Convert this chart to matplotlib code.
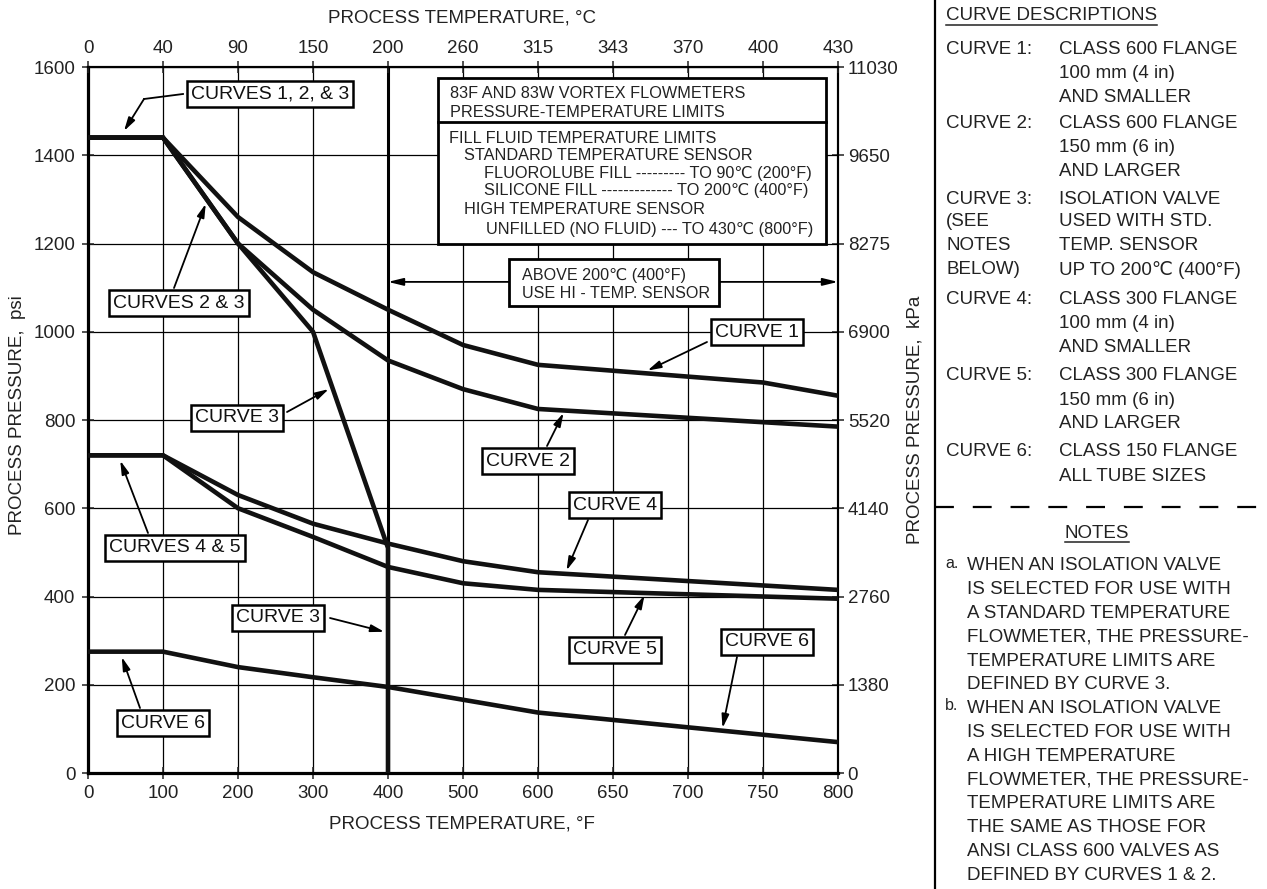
import numpy as np
import matplotlib
matplotlib.use('Agg')
import matplotlib.pyplot as plt
from matplotlib.patches import Rectangle
from matplotlib.lines import Line2D

FONT = ['Liberation Sans', 'DejaVu Sans']
plt.rcParams['font.family'] = FONT

# ---------------- data ----------------
f_ticks = [0, 100, 200, 300, 400, 500, 600, 650, 700, 750, 800]
c_labels = ['0', '40', '90', '150', '200', '260', '315', '343', '370', '400', '430']
psi_ticks = [0, 200, 400, 600, 800, 1000, 1200, 1400, 1600]
kpa_labels = ['0', '1380', '2760', '4140', '5520', '6900', '8275', '9650', '11030']

curve1_f = [0, 100, 200, 300, 400, 500, 600, 750, 800]
curve1_psi = [1440, 1440, 1260, 1135, 1050, 970, 925, 885, 855]
curve2_f = [0, 100, 200, 300, 400, 500, 600, 800]
curve2_psi = [1440, 1440, 1200, 1050, 935, 870, 825, 785]
curve3_f = [0, 100, 200, 300, 400, 400]
curve3_psi = [1440, 1440, 1200, 1000, 510, 0]
curve4_f = [0, 100, 200, 300, 400, 500, 600, 800]
curve4_psi = [720, 720, 630, 565, 520, 480, 455, 415]
curve5_f = [0, 100, 200, 300, 400, 500, 600, 800]
curve5_psi = [720, 720, 600, 535, 467, 430, 415, 395]
curve6_f = [0, 100, 200, 300, 400, 500, 600, 800]
curve6_psi = [275, 275, 240, 217, 195, 166, 137, 70]

W, H = 1267, 889
fig = plt.figure(figsize=(W / 100, H / 100), dpi=100)
AX_L, AX_R, AX_T, AX_B = 88, 838, 67, 773
ax = fig.add_axes([AX_L / W, 1 - AX_B / H, (AX_R - AX_L) / W, (AX_B - AX_T) / H])

pos = np.arange(len(f_ticks), dtype=float)
def fwd(x):
    return np.interp(x, f_ticks, pos)
def inv(p):
    return np.interp(p, pos, f_ticks)

TK = dict(direction='inout', length=8, width=1.1, labelsize=13.5, colors='#222222')

ax.set_xscale('function', functions=(fwd, inv))
ax.set_xlim(0, 800)
ax.set_ylim(0, 1600)
ax.set_xticks(f_ticks, labels=[str(v) for v in f_ticks])
ax.set_yticks(psi_ticks, labels=[str(v) for v in psi_ticks])
ax.grid(True, color='black', lw=0.9)
ax.set_axisbelow(True)
ax.tick_params(axis='x', pad=5, **TK)
ax.tick_params(axis='y', pad=5, **TK)
for s in ['left', 'bottom']:
    ax.spines[s].set_linewidth(2.3)
for s in ['top', 'right']:
    ax.spines[s].set_linewidth(1.5)

# bold 400 F line
ax.axvline(400, color='black', lw=2.2, zorder=2)

lw = 3.3
for fx, py in [(curve1_f, curve1_psi), (curve2_f, curve2_psi), (curve3_f, curve3_psi),
               (curve4_f, curve4_psi), (curve5_f, curve5_psi), (curve6_f, curve6_psi)]:
    ax.plot(fx, py, color='#111111', lw=lw, solid_joinstyle='miter', zorder=4)

top = ax.twiny()
top.set_xscale('function', functions=(fwd, inv))
top.set_xlim(0, 800)
top.set_xticks(f_ticks, labels=c_labels)
top.tick_params(axis='x', pad=3, **TK)
for s in ['left', 'right', 'bottom']:
    top.spines[s].set_visible(False)
top.spines['top'].set_linewidth(1.5)

right = ax.secondary_yaxis('right')
right.set_yticks(psi_ticks, labels=kpa_labels)
right.tick_params(pad=3, **TK)
right.spines['right'].set_linewidth(1.5)

def af(px, py):
    return ((px - AX_L) / (AX_R - AX_L), (AX_B - py) / (AX_B - AX_T))

def fx_(px):
    return px / W

def fy_(py):
    return 1 - py / H

# axis titles
fig.text(fx_(462), fy_(18), 'PROCESS TEMPERATURE, \u00b0C', ha='center', va='center', fontsize=13.5, color='#222222')
fig.text(fx_(462), fy_(824), 'PROCESS TEMPERATURE, \u00b0F', ha='center', va='center', fontsize=13.5, color='#222222')
fig.text(fx_(18), fy_(415), 'PROCESS PRESSURE,  psi', ha='center', va='center', rotation=90, fontsize=13.5, color='#222222')
fig.text(fx_(915), fy_(420), 'PROCESS PRESSURE,  kPa', ha='center', va='center', rotation=90, fontsize=13.5, color='#222222')

# ---------------- curve labels ----------------
arrowprops = dict(arrowstyle='-|>,head_length=0.8,head_width=0.22', lw=1.3, color='black',
                  shrinkA=0, shrinkB=0)
box = dict(boxstyle='square,pad=0.22', fc='white', ec='black', lw=1.8)

labels = [
    # text, box centre px, arrow start px, arrow tip (F, psi)
    ('CURVES 1, 2, & 3', (270, 94), (144, 99), (48, 1455)),
    ('CURVES 2 & 3', (179, 303), (174, 288), (157, 1290)),
    ('CURVE 3', (237, 418), (287, 412), (321, 870)),
    ('CURVE 1', (757, 332), (707, 342), (673, 912)),
    ('CURVE 2', (528, 461), (547, 446), (617, 816)),
    ('CURVE 4', (615, 505), (588, 520), (619, 459)),
    ('CURVES 4 & 5', (175, 548), (148, 533), (43, 708)),
    ('CURVE 3', (278, 618), (330, 618), (395, 320)),
    ('CURVE 5', (615, 650), (625, 635), (671, 403)),
    ('CURVE 6', (767, 642), (737, 657), (723, 102)),
    ('CURVE 6', (163, 723), (140, 708), (45, 263)),
]
for text, cpx, spx, tip in labels:
    ax.text(*af(*cpx), text, transform=ax.transAxes, ha='center', va='center',
            fontsize=14, color='#111111', bbox=box, zorder=6)
    ax.annotate('', xy=tip, xycoords='data', xytext=af(*spx), textcoords='axes fraction',
                arrowprops=arrowprops, zorder=5)
# elbow for the first label
x0, y0 = af(183, 94)
x1, y1 = af(144, 99)
ax.plot([x0, x1], [y0, y1], transform=ax.transAxes, color='black', lw=1.3, zorder=5)

# ---------------- info box ----------------
bx0, by0 = af(438, 244)
bx1, by1 = af(826, 78)
ax.add_patch(Rectangle((bx0, by0), bx1 - bx0, by1 - by0, transform=ax.transAxes,
                       fc='white', ec='black', lw=2.0, zorder=6))
dy = af(0, 122)[1]
ax.plot([bx0, bx1], [dy, dy], transform=ax.transAxes, color='black', lw=2.0, zorder=7)
info = [
    (450, 93, '83F AND 83W VORTEX FLOWMETERS'),
    (450, 112, 'PRESSURE-TEMPERATURE LIMITS'),
    (449, 138, 'FILL FLUID TEMPERATURE LIMITS'),
    (464, 155, 'STANDARD TEMPERATURE SENSOR'),
    (484, 173, 'FLUOROLUBE FILL --------- TO 90\u2103 (200\u00b0F)'),
    (484, 190, 'SILICONE FILL ------------- TO 200\u2103 (400\u00b0F)'),
    (464, 209, 'HIGH TEMPERATURE SENSOR'),
    (486, 229, 'UNFILLED (NO FLUID) --- TO 430\u2103 (800\u00b0F)'),
]
for px, py, s in info:
    ax.text(*af(px, py), s, transform=ax.transAxes, ha='left', va='center',
            fontsize=11.7, color='#222222', zorder=8)

# ---------------- above 200C arrow ----------------
ax.annotate('', xy=(800, 1113), xytext=(400, 1113), xycoords='data',
            arrowprops=dict(arrowstyle='<|-|>,head_length=0.9,head_width=0.22', lw=1.3,
                            color='black', shrinkA=0, shrinkB=0), zorder=5)
ax0, ay0 = af(509, 306)
ax1_, ay1 = af(719, 259)
ax.add_patch(Rectangle((ax0, ay0), ax1_ - ax0, ay1 - ay0, transform=ax.transAxes,
                       fc='white', ec='black', lw=2.0, zorder=6))
ax.text(*af(522, 275), 'ABOVE 200\u2103 (400\u00b0F)', transform=ax.transAxes, ha='left',
        va='center', fontsize=11.6, color='#222222', zorder=8)
ax.text(*af(522, 293), 'USE HI - TEMP. SENSOR', transform=ax.transAxes, ha='left',
        va='center', fontsize=11.6, color='#222222', zorder=8)

# ---------------- right panel ----------------
fig.add_artist(Line2D([fx_(935), fx_(935)], [0, 1], color='black', lw=1.6))
PFS = 13.5
col1, col2 = 946, 1059

def ptext(px, py, s, **kw):
    kw.setdefault('fontsize', PFS)
    return fig.text(fx_(px), fy_(py), s, va='center', color='#222222', **kw)

t_cd = ptext(col1, 16, 'CURVE DESCRIPTIONS')
desc = [
    (49, 'CURVE 1:', 'CLASS 600 FLANGE'),
    (73, '', '100 mm (4 in)'),
    (97, '', 'AND SMALLER'),
    (124, 'CURVE 2:', 'CLASS 600 FLANGE'),
    (148, '', '150 mm (6 in)'),
    (172, '', 'AND LARGER'),
    (199, 'CURVE 3:', 'ISOLATION VALVE'),
    (222, '(SEE', 'USED WITH STD.'),
    (246, 'NOTES', 'TEMP. SENSOR'),
    (270, 'BELOW)', 'UP TO 200\u2103 (400\u00b0F)'),
    (300, 'CURVE 4:', 'CLASS 300 FLANGE'),
    (324, '', '100 mm (4 in)'),
    (348, '', 'AND SMALLER'),
    (376, 'CURVE 5:', 'CLASS 300 FLANGE'),
    (400, '', '150 mm (6 in)'),
    (424, '', 'AND LARGER'),
    (452, 'CURVE 6:', 'CLASS 150 FLANGE'),
    (476, '', 'ALL TUBE SIZES'),
]
for py, a, b in desc:
    if a:
        ptext(col1, py, a)
    ptext(col2, py, b)

fig.add_artist(Line2D([fx_(935), 1], [fy_(507), fy_(507)], color='black', lw=1.6,
                      dashes=(8.5, 8.5)))
t_notes = ptext(1097, 533, 'NOTES', ha='center')

notes = [
    ('a.', 'WHEN AN ISOLATION VALVE'),
    ('', 'IS SELECTED FOR USE WITH'),
    ('', 'A STANDARD TEMPERATURE'),
    ('', 'FLOWMETER, THE PRESSURE-'),
    ('', 'TEMPERATURE LIMITS ARE'),
    ('', 'DEFINED BY CURVE 3.'),
    ('b.', 'WHEN AN ISOLATION VALVE'),
    ('', 'IS SELECTED FOR USE WITH'),
    ('', 'A HIGH TEMPERATURE'),
    ('', 'FLOWMETER, THE PRESSURE-'),
    ('', 'TEMPERATURE LIMITS ARE'),
    ('', 'THE SAME AS THOSE FOR'),
    ('', 'ANSI CLASS 600 VALVES AS'),
    ('', 'DEFINED BY CURVES 1 & 2.'),
]
y = 566
for a, b in notes:
    if a:
        ptext(945, y - 3, a, fontsize=11.5)
    ptext(967, y, b)
    y += 23.8

# underlines
fig.canvas.draw()
r = fig.canvas.get_renderer()
for t in (t_cd, t_notes):
    bb = t.get_window_extent(r)
    yy = bb.y0 - 0.5
    fig.add_artist(Line2D([bb.x0 / W, bb.x1 / W], [yy / H, yy / H], color='#222222', lw=1.1))

fig.savefig('out.png', dpi=100)
